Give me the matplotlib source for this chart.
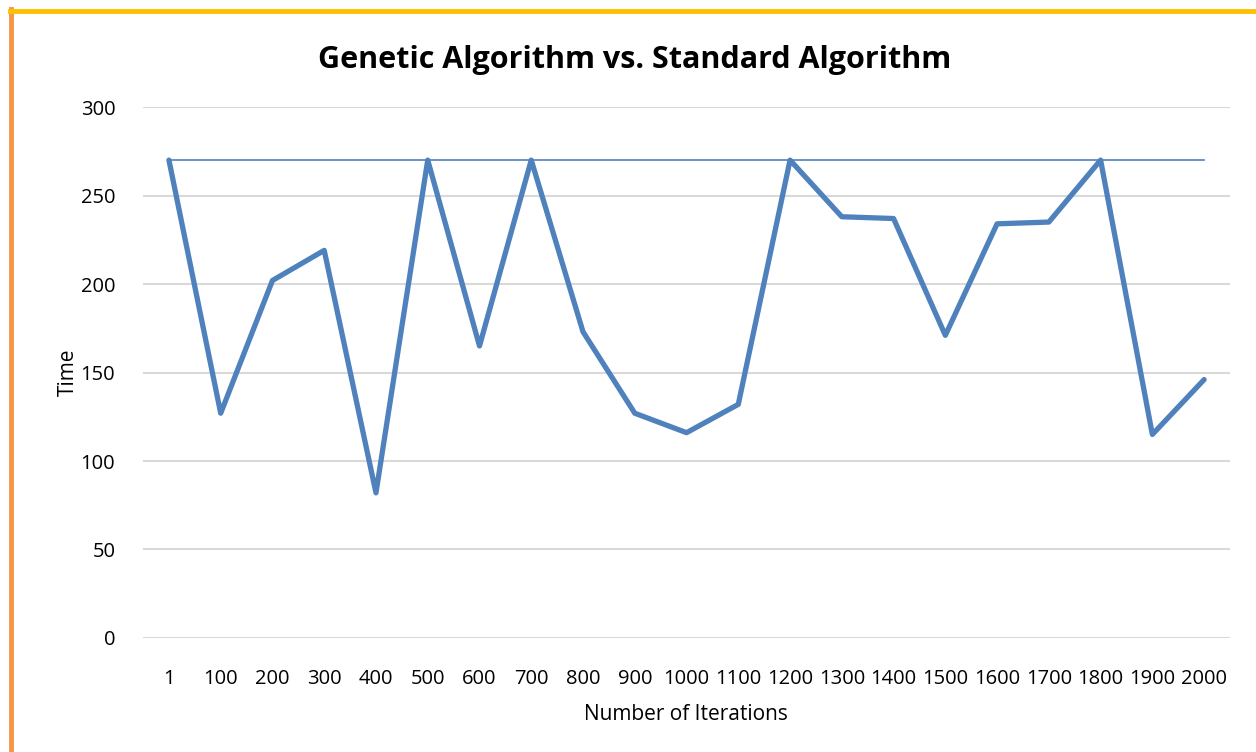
import matplotlib
matplotlib.use("Agg")
import matplotlib.pyplot as plt
from matplotlib.lines import Line2D

plt.rcParams['font.family'] = ['Open Sans', 'DejaVu Sans']

iterations = ['1', '100', '200', '300', '400', '500', '600', '700', '800', '900', '1000',
              '1100', '1200', '1300', '1400', '1500', '1600', '1700', '1800', '1900', '2000']
genetic = [270, 127, 202, 219, 82, 270, 165, 270, 173, 127, 116,
           132, 270, 238, 237, 171, 234, 235, 270, 115, 146]
standard = [270] * len(iterations)
y_ticks = [0, 50, 100, 150, 200, 250, 300]

fig = plt.figure(figsize=(12.56, 7.52), dpi=100)
ax = fig.add_axes([0.1139, 0.1516, 0.8654, 0.7061])

x = range(len(iterations))
ax.plot(x, standard, color='#4F81BD', linewidth=1.2, zorder=3)
ax.plot(x, genetic, color='#4F81BD', linewidth=3.8, solid_joinstyle='round',
        solid_capstyle='round', zorder=4)

ax.set_xlim(-0.5, len(iterations) - 0.5)
ax.set_ylim(0, 300)
ax.set_yticks(y_ticks)
ax.set_xticks(list(x))
ax.set_xticklabels(iterations)
ax.yaxis.grid(True, color='#D9D9D9', linewidth=1.5)
ax.set_axisbelow(True)
for s in ax.spines.values():
    s.set_visible(False)
ax.tick_params(axis='both', length=0, labelsize=14.5, colors='black')
ax.tick_params(axis='y', pad=20)
ax.tick_params(axis='x', pad=22)

fig.text(635 / 1256, 1 - 60 / 752, 'Genetic Algorithm vs. Standard Algorithm',
         fontsize=22, fontweight='bold', ha='center', va='center')
fig.text(686 / 1256, 1 - 714 / 752, 'Number of Iterations', fontsize=15, ha='center', va='center')
fig.text(68 / 1256, 1 - 372 / 752, 'Time', fontsize=15, rotation=90, ha='center', va='center')

# chart frame fragments (orange left edge, yellow top edge)
fig.add_artist(Line2D([11 / 1256, 11 / 1256], [0, 1 - 9 / 752], transform=fig.transFigure,
                      color='#F79646', linewidth=3.5))
fig.add_artist(Line2D([10 / 1256, 1], [1 - 11 / 752, 1 - 11 / 752], transform=fig.transFigure,
                      color='#FFC000', linewidth=3.5))

fig.savefig('out.png', dpi=100)
